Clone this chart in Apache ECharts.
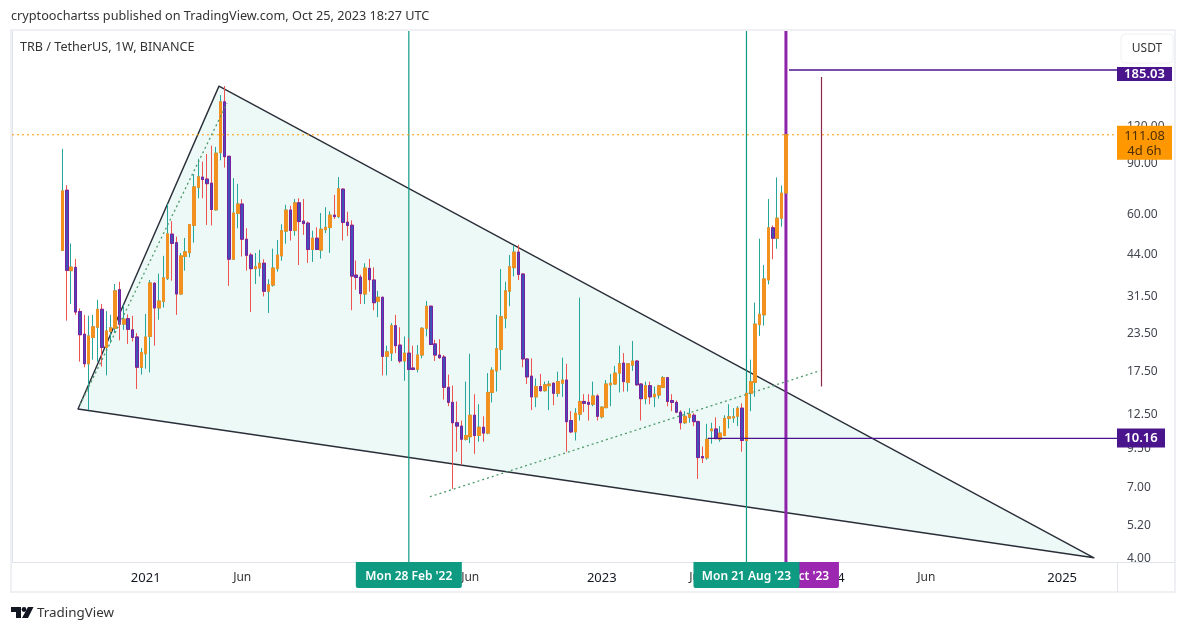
<!DOCTYPE html>
<html>
<head>
<meta charset="utf-8">
<style>html,body{margin:0;background:#fff}#main{width:1187px;height:632px}</style>
<script src="https://cdn.jsdelivr.net/npm/echarts@6/dist/echarts.min.js"></script>
</head>
<body>
<div id="main"></div>
<script>
var myChart = echarts.init(document.getElementById('main'));

var FONT = '"Noto Sans", sans-serif';

// weekly candles, first one is the week of 24 Aug 2020
var opens = [
    44.7,71.8,38.1,39.1,27.6,23.1,18.3,22.5,24.4,28.1,
    20.8,23.6,24.2,32.8,25.0,26.1,23.9,22.6,17.8,19.8,
    22.7,34.5,28.4,29.9,35.8,50.8,47.5,31.7,42.6,43.9,
    54.4,73.3,79.6,78.4,75.9,61.5,96.5,144,93.8,41.7,
    59.8,64.4,48.8,43.1,38.7,38.9,40.4,32.4,34.0,38.7,
    42.8,52.0,61.4,52.3,65.0,56.3,55.4,45.0,49.2,44.8,
    52.6,53.5,59.0,58.3,72.4,55.8,54.5,36.8,36.2,31.7,
    38.8,35.4,29.9,30.9,19.4,19.9,24.7,21.2,18.7,19.9,
    17.7,17.5,19.6,24.2,28.8,21.4,19.6,19.3,15.2,13.5,
    11.5,11.2,10.1,10.3,12.2,10.4,11.1,10.6,14.6,17.3,
    20.5,26.2,32.4,39.0,44.1,37.1,19.0,16.6,14.1,15.3,
    14.8,15.4,15.7,14.5,15.7,16.1,11.7,10.7,12.3,13.6,
    13.5,13.3,14.2,12.05,12.95,15.5,15.6,17.0,18.4,15.8,
    18.1,18.7,15.6,13.9,15.4,14.1,14.3,15.2,16.4,13.7,
    13.5,12.5,11.5,12.0,12.2,11.6,8.81,8.72,10.8,10.95,
    10.1,10.4,11.9,11.95,12.1,12.9,10.0,14.5,15.8,24.9,
    26.9,35.4,53.4,49.2,57.6,70.2
];
var closes = [
    71.4,38.2,39.2,27.5,23.0,18.3,22.8,24.5,28.1,20.8,
    23.7,24.3,32.5,25.0,26.0,24.0,22.5,17.8,20.0,22.6,
    34.6,28.4,30.0,36.0,50.9,47.2,31.7,42.8,44.2,54.8,
    73.7,79.8,78.1,75.6,61.7,96.1,144,93.5,41.7,60.0,
    64.4,48.8,43.0,38.7,39.3,40.4,32.4,34.1,38.9,43.1,
    52.2,61.4,52.3,65.0,56.1,55.2,45.0,49.2,45.0,52.8,
    53.6,59.0,58.3,72.6,55.7,54.4,36.5,36.1,31.8,38.9,
    35.5,29.6,30.9,19.4,20.1,24.7,21.1,18.7,19.9,17.5,
    17.5,19.6,24.2,28.8,21.3,19.6,19.2,15.2,13.5,11.5,
    11.2,10.1,10.4,12.2,10.4,11.1,10.6,14.6,17.4,20.6,
    26.5,32.5,39.3,44.1,37.0,19.0,16.5,14.1,15.3,14.8,
    15.5,15.6,14.5,15.9,16.1,11.6,10.7,12.4,13.6,13.4,
    13.3,14.2,12.1,13.0,15.6,15.7,17.0,18.3,15.9,18.3,
    18.7,15.5,13.9,15.4,14.1,14.4,15.4,16.4,13.6,13.5,
    12.5,11.5,12.1,12.3,11.6,8.74,8.72,10.1,10.95,10.15,
    10.6,11.9,12.05,12.05,12.9,10.0,14.5,15.9,25.0,27.0,
    35.7,53.4,49.2,57.6,70.2,111.08
];
var lows = [
    44.7,25.7,29.3,26.9,18.6,17.8,12.7,18.9,18.6,17.9,
    16.7,21.5,23.3,22.0,23.9,21.4,21.8,15.0,16.8,17.6,
    17.1,21.1,25.9,28.5,35.4,35.2,26.9,31.5,38.1,42.3,
    47.5,67.4,67.4,54.6,54.4,61.2,90.9,85.8,33.8,41.5,
    53.2,42.6,38.1,27.5,34.3,36.4,31.1,27.3,33.6,37.8,
    41.2,47.1,48.3,50.2,39.8,50.5,40.5,40.8,44.9,41.9,
    51.2,43.8,57.2,57.6,48.3,50.1,27.9,32.8,29.3,29.3,
    32.3,27.9,26.4,16.7,16.7,18.7,19.9,18.4,16.0,17.4,
    17.4,17.1,19.1,22.7,21.2,18.7,19.0,13.8,13.1,6.83,
    9.15,8.26,10.0,9.79,9.0,9.9,9.9,10.5,13.5,14.7,
    17.4,24.2,28.8,36.4,35.4,17.8,15.6,12.7,13.0,14.7,
    14.7,12.7,13.2,14.1,14.1,9.15,10.6,10.0,11.7,12.5,
    11.7,13.1,11.7,11.9,12.9,13.1,15.5,14.6,14.7,14.7,
    17.3,15.4,11.7,13.3,13.3,13.0,13.9,15.1,13.1,12.6,
    12.4,10.9,11.4,11.5,11.2,7.39,8.37,8.6,9.75,10.1,
    9.9,10.35,11.0,11.5,11.2,9.15,9.95,12.6,14.1,22.8,
    24.7,34.2,41.7,45.3,53.9,70.2
];
var highs = [
    99.4,74.7,47.2,41.8,28.3,26.9,26.7,26.9,30.3,29.3,
    27.7,26.9,34.3,34.9,29.1,27.0,26.7,23.3,20.7,27.1,
    35.4,34.8,37.2,42.8,64.4,56.3,49.8,43.8,49.3,54.9,
    81.5,91.9,90.0,95.5,102,101,152,163,94.0,79.0,
    75.5,66.9,53.2,43.8,43.8,44.9,41.7,35.6,45.3,48.5,
    54.9,64.0,63.5,67.0,67.4,67.0,56.1,52.2,53.6,60.0,
    62.8,60.8,69.2,79.6,72.9,60.6,56.6,41.3,36.9,40.4,
    41.8,39.1,32.5,31.0,21.1,25.2,26.9,24.4,22.7,22.4,
    21.1,21.2,24.4,30.0,28.9,22.1,22.2,19.6,16.8,15.4,
    13.6,11.7,15.9,19.8,14.4,13.3,12.1,17.0,17.8,26.9,
    38.6,34.9,43.1,46.4,46.7,37.4,19.1,19.1,16.3,16.9,
    15.9,16.0,15.8,17.2,19.2,18.3,12.6,12.9,30.8,14.4,
    14.4,15.9,14.4,13.1,16.1,16.9,18.0,21.1,19.9,18.4,
    21.9,18.8,15.7,15.9,15.9,15.3,15.5,16.6,16.5,14.4,
    13.7,12.7,12.6,12.9,12.4,11.7,9.53,11.4,11.5,12.0,
    11.2,12.2,13.3,12.9,13.1,13.4,14.6,18.9,29.6,49.0,
    39.8,67.0,54.4,79.4,74.5,111.08
];

// axis
var priceTicks = [4, 5.2, 7, 9.5, 12.5, 17.5, 23.5, 31.5, 44, 60, 90, 120];
var tickDates = ['2021-01-04', '2021-06-07', '2022-01-03', '2022-06-06', '2023-01-02', '2023-06-05', '2024-01-01', '2024-06-03', '2025-01-06'];
var tickLabels = ['2021', 'Jun', '2022', 'Jun', '2023', 'Jun', '2024', 'Jun', '2025'];

// drawings, [week, price]. week 0 is the left edge of the plot
var wedge = [[15.05, 12.82], [47.2, 163], [246.75, 3.97]];
var fanLeft = [[15.5, 13.24], [49.03, 142.4]];
var channel = [[95.3, 6.42], [184.3, 17.34]];
var targetBar = [[184.61, 175], [184.61, 15.3]];
var targetTop = [[177.2, 185.03], [252, 185.03]];
var supportLine = [[158.7, 10.16], [252, 10.16]];
var lastPriceLine = [[0, 111.08], [252, 111.08]];
var markedWeeks = [90.5, 167.5, 176.5];
var markedLabels = ["Mon 28 Feb '22", "Mon 21 Aug '23", "Mon 23 Oct '23"];

var priceMin = 3.84, priceMax = 253.6;

// categories: one per week, the chart starts 11 empty weeks before the first candle
var WEEKS = 252, LEAD = 11;
var categories = [];
for (var i = 0; i < WEEKS; i++) {
    var d = new Date(Date.UTC(2020, 5, 8 + i * 7));
    categories.push(d.toISOString().slice(0, 10));
}

var wicks = [], bodies = [];
for (var i = 0; i < LEAD; i++) {
    wicks.push('-');
    bodies.push('-');
}
for (var i = 0; i < opens.length; i++) {
    wicks.push([opens[i], closes[i], lows[i], highs[i]]);
    bodies.push([opens[i], closes[i], Math.min(opens[i], closes[i]), Math.max(opens[i], closes[i])]);
}

function drawing(points, color, width, type, z) {
    return {
        type: 'line',
        xAxisIndex: 1,
        data: points,
        symbol: 'none',
        silent: true,
        z: z || 5,
        lineStyle: {color: color, width: width, type: type || 'solid'}
    };
}

// the vertical lines stay under the candles
function verticalAt(week, color, width) {
    return drawing([[week, priceMin], [week, priceMax]], color, width, 'solid', 2);
}

var markedColors = ['#0f9a82', '#0f9a82', '#9c27b0'];
// purple one goes first so that the green tag covers it
var markedOrder = [2, 0, 1];

function renderMarkedTag(params, api) {
    var n = markedOrder[params.dataIndex];
    var pt = api.coord([markedWeeks[n], priceMin]);
    var y0 = params.coordSys.y + params.coordSys.height;
    return {
        type: 'group',
        children: [{
            type: 'rect',
            shape: {x: pt[0] - 53, y: y0, width: 106, height: 26, r: [0, 0, 2, 2]},
            style: {fill: markedColors[n]}
        }, {
            type: 'text',
            style: {
                x: pt[0], y: y0 + 15, text: markedLabels[n], fill: '#fff', align: 'center', verticalAlign: 'middle',
                font: '600 12px ' + FONT
            }
        }]
    };
}

var priceTags = [
    {price: 185.03, lines: ['185.03'], fill: '#4a148c', width: 55, top: -3, height: 14, color: '#fff'},
    {price: 111.08, lines: ['111.08', '4d 6h'], fill: '#ff9800', width: 55, top: -9, height: 34, color: '#4d2f05'},
    {price: 10.16, lines: ['10.16'], fill: '#4a148c', width: 48, top: -10, height: 19, color: '#fff'}
];

function renderPriceTag(params, api) {
    var tag = priceTags[params.dataIndex];
    var y = api.coord([0, tag.price])[1];
    var x0 = params.coordSys.x + params.coordSys.width;
    var children = [{
        type: 'rect',
        shape: {x: x0, y: y + tag.top, width: tag.width, height: tag.height},
        style: {fill: tag.fill}
    }];
    for (var i = 0; i < tag.lines.length; i++) {
        children.push({
            type: 'text',
            style: {
                x: x0 + tag.width / 2, y: y + tag.top + (tag.lines.length > 1 ? 10 + i * 15 : tag.height / 2),
                text: tag.lines[i], fill: tag.color, align: 'center', verticalAlign: 'middle',
                font: (tag.fill == '#ff9800' ? '' : '600 ') + '13px ' + FONT
            }
        });
    }
    return {type: 'group', children: children};
}

option = {
    animation: false,
    backgroundColor: '#fff',
    textStyle: {fontFamily: FONT},
    title: [{
        text: 'cryptoochartss published on TradingView.com, Oct 25, 2023 18:27 UTC',
        left: 11, top: 10, padding: 0,
        textStyle: {fontSize: 12.7, fontWeight: 'normal', color: '#333', fontFamily: FONT}
    }, {
        text: 'TRB / TetherUS, 1W, BINANCE',
        left: 20, top: 41, padding: 0,
        textStyle: {fontSize: 12.6, fontWeight: 'normal', color: '#333', fontFamily: FONT}
    }, {
        text: 'TradingView',
        left: 37, top: 607, padding: 0,
        textStyle: {fontSize: 13.4, fontWeight: 'normal', color: '#333', fontFamily: FONT}
    }],
    grid: {left: 12, right: 70, top: 30, bottom: 70},
    xAxis: [{
        type: 'category',
        data: categories,
        axisLine: {lineStyle: {color: '#e0e3eb'}},
        axisTick: {show: false},
        splitLine: {show: false},
        axisLabel: {
            margin: 10,
            color: '#333',
            fontSize: 12,
            interval: function (index, value) {
                return tickDates.indexOf(value) >= 0;
            },
            formatter: function (value) {
                var label = tickLabels[tickDates.indexOf(value)];
                return label == 'Jun' ? label : '{year|' + label + '}';
            },
            rich: {year: {fontSize: 13, color: '#131722'}}
        }
    }, {
        type: 'value',
        show: false,
        min: 0,
        max: WEEKS
    }],
    yAxis: {
        type: 'log',
        logBase: 10,
        position: 'right',
        min: priceMin,
        max: priceMax,
        axisLine: {show: true, lineStyle: {color: '#e0e3eb'}},
        axisTick: {show: false},
        splitLine: {show: false},
        minorTick: {show: false},
        minorSplitLine: {show: false},
        axisLabel: {
            margin: 10,
            color: '#434651',
            fontSize: 12,
            customValues: priceTicks,
            formatter: function (value) {
                return '{p|' + Number(value).toFixed(2) + '}';
            },
            // labels sit a little below their price
            rich: {p: {fontSize: 12, color: '#434651', padding: [4, 0, 0, 0]}}
        }
    },
    series: [{
        // wedge fill and outline, under the candles
        type: 'custom',
        xAxisIndex: 1,
        data: wedge,
        silent: true,
        z: 1,
        renderItem: function (params, api) {
            if (params.dataIndex != 0) return;
            var pts = [];
            for (var i = 0; i < wedge.length; i++) {
                pts.push(api.coord(wedge[i]));
            }
            return {
                type: 'polygon',
                shape: {points: pts},
                style: {fill: '#edf9f6', stroke: '#2a2e39', lineWidth: 1.4, lineJoin: 'round'}
            };
        }
    }, {
        // wicks
        type: 'candlestick',
        data: wicks,
        barWidth: 3,
        silent: true,
        z: 3,
        itemStyle: {color: '#26a69a', color0: '#ef5350', borderColor: '#26a69a', borderColor0: '#ef5350', borderWidth: 1}
    }, {
        // bodies have their own border colour
        type: 'candlestick',
        data: bodies,
        barWidth: 3,
        silent: true,
        z: 4,
        itemStyle: {color: '#f2911f', color0: '#3f51b5', borderColor: '#f2911f', borderColor0: '#7b1fa2', borderWidth: 1}
    },
    drawing(lastPriceLine, '#ff9800', 1, [2, 3]),
    drawing(fanLeft, '#4e9a6a', 1.3, [2, 3]),
    drawing(channel, '#4e9a6a', 1.3, [2, 3]),
    drawing(targetBar, '#8a2846', 1.2),
    drawing(targetTop, '#4a148c', 1.5),
    drawing(supportLine, '#4a148c', 1.2),
    verticalAt(markedWeeks[0], '#0f9a82', 1.2),
    verticalAt(markedWeeks[1], '#0f9a82', 1.2),
    verticalAt(markedWeeks[2], '#8e24aa', 3),
    {
        type: 'custom',
        xAxisIndex: 1,
        data: markedOrder,
        silent: true,
        z: 20,
        clip: false,
        renderItem: renderMarkedTag
    }, {
        type: 'custom',
        xAxisIndex: 1,
        data: [0, 1, 2],
        silent: true,
        z: 20,
        clip: false,
        renderItem: renderPriceTag
    }],
    graphic: [
        {type: 'rect', z: 30, silent: true, shape: {x: 11, y: 30, width: 1164, height: 562}, style: {fill: 'none', stroke: '#eff0f3', lineWidth: 2}},
        {type: 'line', z: 30, silent: true, shape: {x1: 1117.5, y1: 562, x2: 1117.5, y2: 592}, style: {stroke: '#e0e3eb', lineWidth: 1}},
        {type: 'line', z: 30, silent: true, shape: {x1: 1117, y1: 562.5, x2: 1175, y2: 562.5}, style: {stroke: '#e0e3eb', lineWidth: 1}},
        {type: 'rect', z: 30, silent: true, shape: {x: 1121, y: 34, width: 52, height: 29, r: 4}, style: {fill: '#fff', stroke: '#eff0f3', lineWidth: 1}},
        {type: 'text', z: 31, silent: true, style: {x: 1147, y: 48.5, text: 'USDT', fill: '#333', align: 'center', verticalAlign: 'middle', font: '12px ' + FONT}},
        // TradingView mark
        {type: 'polygon', z: 31, silent: true, shape: {points: [[11, 607], [21, 607], [21, 618], [16, 618], [16, 612], [11, 612]]}, style: {fill: '#131722'}},
        {type: 'circle', z: 31, silent: true, shape: {cx: 24, cy: 609.5, r: 2.4}, style: {fill: '#131722'}},
        {type: 'polygon', z: 31, silent: true, shape: {points: [[28, 607], [33.5, 607], [28, 618], [22, 618]]}, style: {fill: '#131722'}}
    ]
};

myChart.setOption(option);
</script>
</body>
</html>
